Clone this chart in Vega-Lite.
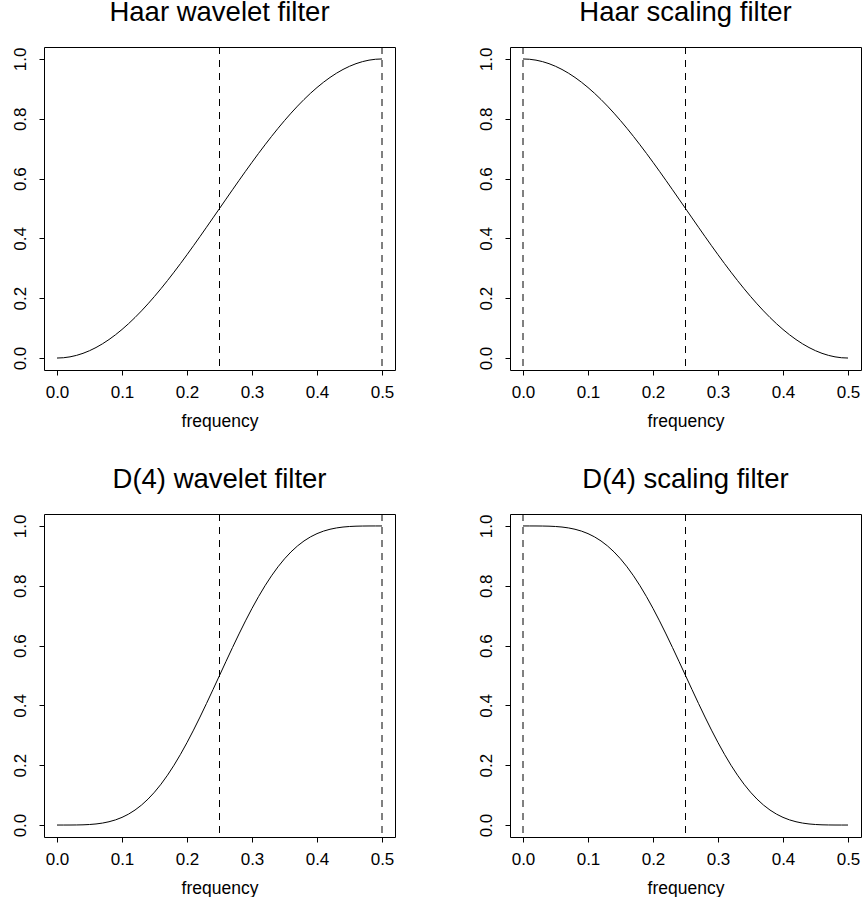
{
  "$schema": "https://vega.github.io/schema/vega-lite/v6.json",
  "background": "white",
  "padding": {"left": 10, "top": -2, "right": 0, "bottom": 0},
  "bounds": "flush",
  "columns": 2,
  "spacing": {"row": 144, "column": 115},
  "datasets": {
    "curves": [
      {"p": "hw", "f": 0.00, "g": 0},
      {"p": "hw", "f": 0.01, "g": 0.000987},
      {"p": "hw", "f": 0.02, "g": 0.003943},
      {"p": "hw", "f": 0.03, "g": 0.008856},
      {"p": "hw", "f": 0.04, "g": 0.015708},
      {"p": "hw", "f": 0.05, "g": 0.024472},
      {"p": "hw", "f": 0.06, "g": 0.035112},
      {"p": "hw", "f": 0.07, "g": 0.047587},
      {"p": "hw", "f": 0.08, "g": 0.061847},
      {"p": "hw", "f": 0.09, "g": 0.077836},
      {"p": "hw", "f": 0.10, "g": 0.095492},
      {"p": "hw", "f": 0.11, "g": 0.114744},
      {"p": "hw", "f": 0.12, "g": 0.135516},
      {"p": "hw", "f": 0.13, "g": 0.157727},
      {"p": "hw", "f": 0.14, "g": 0.181288},
      {"p": "hw", "f": 0.15, "g": 0.206107},
      {"p": "hw", "f": 0.16, "g": 0.232087},
      {"p": "hw", "f": 0.17, "g": 0.259123},
      {"p": "hw", "f": 0.18, "g": 0.287111},
      {"p": "hw", "f": 0.19, "g": 0.315938},
      {"p": "hw", "f": 0.20, "g": 0.345492},
      {"p": "hw", "f": 0.21, "g": 0.375655},
      {"p": "hw", "f": 0.22, "g": 0.40631},
      {"p": "hw", "f": 0.23, "g": 0.437334},
      {"p": "hw", "f": 0.24, "g": 0.468605},
      {"p": "hw", "f": 0.25, "g": 0.5},
      {"p": "hw", "f": 0.26, "g": 0.531395},
      {"p": "hw", "f": 0.27, "g": 0.562666},
      {"p": "hw", "f": 0.28, "g": 0.59369},
      {"p": "hw", "f": 0.29, "g": 0.624345},
      {"p": "hw", "f": 0.30, "g": 0.654508},
      {"p": "hw", "f": 0.31, "g": 0.684062},
      {"p": "hw", "f": 0.32, "g": 0.712889},
      {"p": "hw", "f": 0.33, "g": 0.740877},
      {"p": "hw", "f": 0.34, "g": 0.767913},
      {"p": "hw", "f": 0.35, "g": 0.793893},
      {"p": "hw", "f": 0.36, "g": 0.818712},
      {"p": "hw", "f": 0.37, "g": 0.842273},
      {"p": "hw", "f": 0.38, "g": 0.864484},
      {"p": "hw", "f": 0.39, "g": 0.885256},
      {"p": "hw", "f": 0.40, "g": 0.904508},
      {"p": "hw", "f": 0.41, "g": 0.922164},
      {"p": "hw", "f": 0.42, "g": 0.938153},
      {"p": "hw", "f": 0.43, "g": 0.952413},
      {"p": "hw", "f": 0.44, "g": 0.964888},
      {"p": "hw", "f": 0.45, "g": 0.975528},
      {"p": "hw", "f": 0.46, "g": 0.984292},
      {"p": "hw", "f": 0.47, "g": 0.991144},
      {"p": "hw", "f": 0.48, "g": 0.996057},
      {"p": "hw", "f": 0.49, "g": 0.999013},
      {"p": "hw", "f": 0.50, "g": 1},

      {"p": "hs", "f": 0.00, "g": 1},
      {"p": "hs", "f": 0.01, "g": 0.999013},
      {"p": "hs", "f": 0.02, "g": 0.996057},
      {"p": "hs", "f": 0.03, "g": 0.991144},
      {"p": "hs", "f": 0.04, "g": 0.984292},
      {"p": "hs", "f": 0.05, "g": 0.975528},
      {"p": "hs", "f": 0.06, "g": 0.964888},
      {"p": "hs", "f": 0.07, "g": 0.952413},
      {"p": "hs", "f": 0.08, "g": 0.938153},
      {"p": "hs", "f": 0.09, "g": 0.922164},
      {"p": "hs", "f": 0.10, "g": 0.904508},
      {"p": "hs", "f": 0.11, "g": 0.885256},
      {"p": "hs", "f": 0.12, "g": 0.864484},
      {"p": "hs", "f": 0.13, "g": 0.842273},
      {"p": "hs", "f": 0.14, "g": 0.818712},
      {"p": "hs", "f": 0.15, "g": 0.793893},
      {"p": "hs", "f": 0.16, "g": 0.767913},
      {"p": "hs", "f": 0.17, "g": 0.740877},
      {"p": "hs", "f": 0.18, "g": 0.712889},
      {"p": "hs", "f": 0.19, "g": 0.684062},
      {"p": "hs", "f": 0.20, "g": 0.654508},
      {"p": "hs", "f": 0.21, "g": 0.624345},
      {"p": "hs", "f": 0.22, "g": 0.59369},
      {"p": "hs", "f": 0.23, "g": 0.562666},
      {"p": "hs", "f": 0.24, "g": 0.531395},
      {"p": "hs", "f": 0.25, "g": 0.5},
      {"p": "hs", "f": 0.26, "g": 0.468605},
      {"p": "hs", "f": 0.27, "g": 0.437334},
      {"p": "hs", "f": 0.28, "g": 0.40631},
      {"p": "hs", "f": 0.29, "g": 0.375655},
      {"p": "hs", "f": 0.30, "g": 0.345492},
      {"p": "hs", "f": 0.31, "g": 0.315938},
      {"p": "hs", "f": 0.32, "g": 0.287111},
      {"p": "hs", "f": 0.33, "g": 0.259123},
      {"p": "hs", "f": 0.34, "g": 0.232087},
      {"p": "hs", "f": 0.35, "g": 0.206107},
      {"p": "hs", "f": 0.36, "g": 0.181288},
      {"p": "hs", "f": 0.37, "g": 0.157727},
      {"p": "hs", "f": 0.38, "g": 0.135516},
      {"p": "hs", "f": 0.39, "g": 0.114744},
      {"p": "hs", "f": 0.40, "g": 0.095492},
      {"p": "hs", "f": 0.41, "g": 0.077836},
      {"p": "hs", "f": 0.42, "g": 0.061847},
      {"p": "hs", "f": 0.43, "g": 0.047587},
      {"p": "hs", "f": 0.44, "g": 0.035112},
      {"p": "hs", "f": 0.45, "g": 0.024472},
      {"p": "hs", "f": 0.46, "g": 0.015708},
      {"p": "hs", "f": 0.47, "g": 0.008856},
      {"p": "hs", "f": 0.48, "g": 0.003943},
      {"p": "hs", "f": 0.49, "g": 0.000987},
      {"p": "hs", "f": 0.50, "g": 0},

      {"p": "dw", "f": 0.00, "g": 0},
      {"p": "dw", "f": 0.01, "g": 0.000003},
      {"p": "dw", "f": 0.02, "g": 0.000047},
      {"p": "dw", "f": 0.03, "g": 0.000234},
      {"p": "dw", "f": 0.04, "g": 0.000732},
      {"p": "dw", "f": 0.05, "g": 0.001767},
      {"p": "dw", "f": 0.06, "g": 0.003612},
      {"p": "dw", "f": 0.07, "g": 0.006578},
      {"p": "dw", "f": 0.08, "g": 0.011002},
      {"p": "dw", "f": 0.09, "g": 0.017232},
      {"p": "dw", "f": 0.10, "g": 0.025615},
      {"p": "dw", "f": 0.11, "g": 0.036477},
      {"p": "dw", "f": 0.12, "g": 0.050116},
      {"p": "dw", "f": 0.13, "g": 0.066786},
      {"p": "dw", "f": 0.14, "g": 0.086679},
      {"p": "dw", "f": 0.15, "g": 0.109929},
      {"p": "dw", "f": 0.16, "g": 0.136591},
      {"p": "dw", "f": 0.17, "g": 0.166637},
      {"p": "dw", "f": 0.18, "g": 0.199963},
      {"p": "dw", "f": 0.19, "g": 0.236379},
      {"p": "dw", "f": 0.20, "g": 0.275615},
      {"p": "dw", "f": 0.21, "g": 0.317328},
      {"p": "dw", "f": 0.22, "g": 0.36111},
      {"p": "dw", "f": 0.23, "g": 0.406493},
      {"p": "dw", "f": 0.24, "g": 0.45297},
      {"p": "dw", "f": 0.25, "g": 0.5},
      {"p": "dw", "f": 0.26, "g": 0.54703},
      {"p": "dw", "f": 0.27, "g": 0.593507},
      {"p": "dw", "f": 0.28, "g": 0.63889},
      {"p": "dw", "f": 0.29, "g": 0.682672},
      {"p": "dw", "f": 0.30, "g": 0.724385},
      {"p": "dw", "f": 0.31, "g": 0.763621},
      {"p": "dw", "f": 0.32, "g": 0.800037},
      {"p": "dw", "f": 0.33, "g": 0.833363},
      {"p": "dw", "f": 0.34, "g": 0.863409},
      {"p": "dw", "f": 0.35, "g": 0.890071},
      {"p": "dw", "f": 0.36, "g": 0.913321},
      {"p": "dw", "f": 0.37, "g": 0.933214},
      {"p": "dw", "f": 0.38, "g": 0.949884},
      {"p": "dw", "f": 0.39, "g": 0.963523},
      {"p": "dw", "f": 0.40, "g": 0.974385},
      {"p": "dw", "f": 0.41, "g": 0.982768},
      {"p": "dw", "f": 0.42, "g": 0.988998},
      {"p": "dw", "f": 0.43, "g": 0.993422},
      {"p": "dw", "f": 0.44, "g": 0.996388},
      {"p": "dw", "f": 0.45, "g": 0.998233},
      {"p": "dw", "f": 0.46, "g": 0.999268},
      {"p": "dw", "f": 0.47, "g": 0.999766},
      {"p": "dw", "f": 0.48, "g": 0.999953},
      {"p": "dw", "f": 0.49, "g": 0.999997},
      {"p": "dw", "f": 0.50, "g": 1},

      {"p": "ds", "f": 0.00, "g": 1},
      {"p": "ds", "f": 0.01, "g": 0.999997},
      {"p": "ds", "f": 0.02, "g": 0.999953},
      {"p": "ds", "f": 0.03, "g": 0.999766},
      {"p": "ds", "f": 0.04, "g": 0.999268},
      {"p": "ds", "f": 0.05, "g": 0.998233},
      {"p": "ds", "f": 0.06, "g": 0.996388},
      {"p": "ds", "f": 0.07, "g": 0.993422},
      {"p": "ds", "f": 0.08, "g": 0.988998},
      {"p": "ds", "f": 0.09, "g": 0.982768},
      {"p": "ds", "f": 0.10, "g": 0.974385},
      {"p": "ds", "f": 0.11, "g": 0.963523},
      {"p": "ds", "f": 0.12, "g": 0.949884},
      {"p": "ds", "f": 0.13, "g": 0.933214},
      {"p": "ds", "f": 0.14, "g": 0.913321},
      {"p": "ds", "f": 0.15, "g": 0.890071},
      {"p": "ds", "f": 0.16, "g": 0.863409},
      {"p": "ds", "f": 0.17, "g": 0.833363},
      {"p": "ds", "f": 0.18, "g": 0.800037},
      {"p": "ds", "f": 0.19, "g": 0.763621},
      {"p": "ds", "f": 0.20, "g": 0.724385},
      {"p": "ds", "f": 0.21, "g": 0.682672},
      {"p": "ds", "f": 0.22, "g": 0.63889},
      {"p": "ds", "f": 0.23, "g": 0.593507},
      {"p": "ds", "f": 0.24, "g": 0.54703},
      {"p": "ds", "f": 0.25, "g": 0.5},
      {"p": "ds", "f": 0.26, "g": 0.45297},
      {"p": "ds", "f": 0.27, "g": 0.406493},
      {"p": "ds", "f": 0.28, "g": 0.36111},
      {"p": "ds", "f": 0.29, "g": 0.317328},
      {"p": "ds", "f": 0.30, "g": 0.275615},
      {"p": "ds", "f": 0.31, "g": 0.236379},
      {"p": "ds", "f": 0.32, "g": 0.199963},
      {"p": "ds", "f": 0.33, "g": 0.166637},
      {"p": "ds", "f": 0.34, "g": 0.136591},
      {"p": "ds", "f": 0.35, "g": 0.109929},
      {"p": "ds", "f": 0.36, "g": 0.086679},
      {"p": "ds", "f": 0.37, "g": 0.066786},
      {"p": "ds", "f": 0.38, "g": 0.050116},
      {"p": "ds", "f": 0.39, "g": 0.036477},
      {"p": "ds", "f": 0.40, "g": 0.025615},
      {"p": "ds", "f": 0.41, "g": 0.017232},
      {"p": "ds", "f": 0.42, "g": 0.011002},
      {"p": "ds", "f": 0.43, "g": 0.006578},
      {"p": "ds", "f": 0.44, "g": 0.003612},
      {"p": "ds", "f": 0.45, "g": 0.001767},
      {"p": "ds", "f": 0.46, "g": 0.000732},
      {"p": "ds", "f": 0.47, "g": 0.000234},
      {"p": "ds", "f": 0.48, "g": 0.000047},
      {"p": "ds", "f": 0.49, "g": 0.000003},
      {"p": "ds", "f": 0.50, "g": 0}
    ],
    "cutoffs": [
      {"p": "hw", "f": 0.25},
      {"p": "hw", "f": 0.5},
      {"p": "hs", "f": 0},
      {"p": "hs", "f": 0.25},
      {"p": "dw", "f": 0.25},
      {"p": "dw", "f": 0.5},
      {"p": "ds", "f": 0},
      {"p": "ds", "f": 0.25}
    ]
  },
  "concat": [
    {
      "title": "Haar wavelet filter",
      "width": 351, "height": 323,
      "layer": [
        {"data": {"name": "curves"}, "transform": [{"filter": "datum.p === 'hw'"}],
         "mark": {"type": "line", "color": "black", "strokeWidth": 1},
         "encoding": {
           "x": {"field": "f", "type": "quantitative", "scale": {"domain": [-0.02, 0.52], "nice": false, "zero": false}, "axis": {"title": "frequency", "values": [0, 0.1, 0.2, 0.3, 0.4, 0.5]}},
           "y": {"field": "g", "type": "quantitative", "scale": {"domain": [-0.04, 1.04], "nice": false, "zero": false}, "axis": {"title": null, "values": [0, 0.2, 0.4, 0.6, 0.8, 1.0]}}}},
        {"data": {"name": "cutoffs"}, "transform": [{"filter": "datum.p === 'hw'"}],
         "mark": {"type": "rule", "color": "black", "strokeWidth": 1, "strokeDash": [7, 6]},
         "encoding": {"x": {"field": "f", "type": "quantitative"}}}
      ]
    },
    {
      "title": "Haar scaling filter",
      "width": 351, "height": 323,
      "layer": [
        {"data": {"name": "curves"}, "transform": [{"filter": "datum.p === 'hs'"}],
         "mark": {"type": "line", "color": "black", "strokeWidth": 1},
         "encoding": {
           "x": {"field": "f", "type": "quantitative", "scale": {"domain": [-0.02, 0.52], "nice": false, "zero": false}, "axis": {"title": "frequency", "values": [0, 0.1, 0.2, 0.3, 0.4, 0.5]}},
           "y": {"field": "g", "type": "quantitative", "scale": {"domain": [-0.04, 1.04], "nice": false, "zero": false}, "axis": {"title": null, "values": [0, 0.2, 0.4, 0.6, 0.8, 1.0]}}}},
        {"data": {"name": "cutoffs"}, "transform": [{"filter": "datum.p === 'hs'"}],
         "mark": {"type": "rule", "color": "black", "strokeWidth": 1, "strokeDash": [7, 6]},
         "encoding": {"x": {"field": "f", "type": "quantitative"}}}
      ]
    },
    {
      "title": "D(4) wavelet filter",
      "width": 351, "height": 323,
      "layer": [
        {"data": {"name": "curves"}, "transform": [{"filter": "datum.p === 'dw'"}],
         "mark": {"type": "line", "color": "black", "strokeWidth": 1},
         "encoding": {
           "x": {"field": "f", "type": "quantitative", "scale": {"domain": [-0.02, 0.52], "nice": false, "zero": false}, "axis": {"title": "frequency", "values": [0, 0.1, 0.2, 0.3, 0.4, 0.5]}},
           "y": {"field": "g", "type": "quantitative", "scale": {"domain": [-0.04, 1.04], "nice": false, "zero": false}, "axis": {"title": null, "values": [0, 0.2, 0.4, 0.6, 0.8, 1.0]}}}},
        {"data": {"name": "cutoffs"}, "transform": [{"filter": "datum.p === 'dw'"}],
         "mark": {"type": "rule", "color": "black", "strokeWidth": 1, "strokeDash": [7, 6]},
         "encoding": {"x": {"field": "f", "type": "quantitative"}}}
      ]
    },
    {
      "title": "D(4) scaling filter",
      "width": 351, "height": 323,
      "layer": [
        {"data": {"name": "curves"}, "transform": [{"filter": "datum.p === 'ds'"}],
         "mark": {"type": "line", "color": "black", "strokeWidth": 1},
         "encoding": {
           "x": {"field": "f", "type": "quantitative", "scale": {"domain": [-0.02, 0.52], "nice": false, "zero": false}, "axis": {"title": "frequency", "values": [0, 0.1, 0.2, 0.3, 0.4, 0.5]}},
           "y": {"field": "g", "type": "quantitative", "scale": {"domain": [-0.04, 1.04], "nice": false, "zero": false}, "axis": {"title": null, "values": [0, 0.2, 0.4, 0.6, 0.8, 1.0]}}}},
        {"data": {"name": "cutoffs"}, "transform": [{"filter": "datum.p === 'ds'"}],
         "mark": {"type": "rule", "color": "black", "strokeWidth": 1, "strokeDash": [7, 6]},
         "encoding": {"x": {"field": "f", "type": "quantitative"}}}
      ]
    }
  ],
  "config": {
    "font": "Liberation Sans",
    "view": {"stroke": "black", "strokeWidth": 1},
    "title": {"fontSize": 27.5, "fontWeight": "normal", "color": "black", "font": "Liberation Sans", "anchor": "middle", "frame": "group", "offset": 20},
    "axis": {
      "grid": false, "domain": false,
      "ticks": true, "tickColor": "black", "tickWidth": 1, "tickSize": 5,
      "labelFont": "Liberation Sans", "labelFontSize": 17, "labelColor": "black",
      "titleFont": "Liberation Sans", "titleFontSize": 17.5, "titleFontWeight": "normal", "titleColor": "black"
    },
    "axisX": {"format": ".1f", "labelPadding": 9, "titlePadding": 12, "labelFlush": false},
    "axisY": {"format": ".1f", "labelAngle": -90, "labelAlign": "center", "labelBaseline": "bottom", "labelPadding": 10, "labelFlush": false}
  }
}
